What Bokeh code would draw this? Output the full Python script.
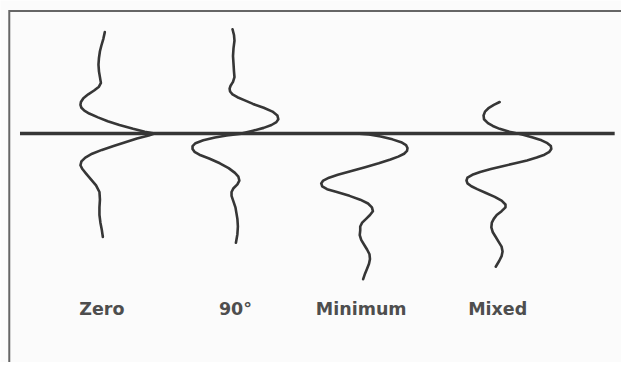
from bokeh.plotting import figure
from bokeh.models import Range1d
from bokeh.embed import file_html
from bokeh.resources import INLINE
from bokeh.core.properties import value

# ---- data (time runs downward, amplitude is horizontal offset) ----
labels = ["Zero", "90°", "Minimum", "Mixed"]
label_x = [104, 241, 370, 510]
label_y = 322

zero_t = [33, 40, 47, 53, 60, 67, 74, 80, 86, 90, 94, 98, 102, 106, 109, 112, 115, 118, 122, 126,
          130, 134, 137, 139, 141, 144, 148, 152, 156, 160, 164, 168, 172, 176, 181, 187, 193, 200,
          208, 216, 224, 232, 240, 247]
zero_x = [107, 105.5, 103.5, 102, 101, 100.5, 101, 102, 103, 101, 96, 90, 85, 82.5, 82, 83, 86, 91, 100, 110,
          122, 136, 148, 158, 152, 140, 128, 116, 104, 94, 87, 83, 82, 84, 88, 93, 98, 101.5,
          102, 101.5, 101.5, 102.5, 104, 105]

ninety_t = [30, 36, 42, 50, 58, 66, 74, 80, 85, 89, 92, 95, 98, 101, 104, 108, 112, 116, 120, 124, 127,
            130, 133, 136, 139, 141, 143, 146, 149, 152, 155, 158, 161, 165, 170, 175, 180, 184, 188,
            192, 196, 200, 204, 210, 216, 222, 228, 236, 244, 253]
ninety_x = [238, 239.5, 240, 239, 238.5, 239, 239.5, 240, 238.5, 236, 235, 235.5, 238, 243, 250, 259, 270, 279, 284, 285, 283,
            278, 270, 259, 247, 232, 220, 208, 200, 197, 197, 199, 204, 214, 225, 234, 240.5, 244, 245,
            243, 239, 237, 237, 239, 241, 242, 243, 243.5, 243, 241.5]

minimum_t = [139, 140, 142, 145, 148, 151, 154, 157, 160, 163, 166, 170, 174, 178, 182, 185, 188, 191, 194,
             197, 200, 204, 208, 212, 216, 220, 224, 228, 232, 236, 240, 245, 250, 255, 260, 265, 270,
             275, 280, 285, 291]
minimum_x = [368, 378, 390, 402, 411, 416, 417.5, 417, 414, 408, 400, 388, 374, 360, 346, 337, 331, 329, 330,
             335, 345, 358, 369, 377, 381, 382, 379, 375, 371, 369, 369, 368.5, 370, 373, 376, 378.5, 379,
             378, 376, 374, 372]

mixed_t = [106, 109, 112, 116, 120, 124, 128, 131, 134, 137, 140, 143, 146, 149, 152, 155, 158, 161, 164,
           167, 170, 173, 176, 179, 182, 185, 188, 191, 194, 197, 201, 205, 209, 213, 216, 220, 224, 228,
           232, 237, 242, 247, 252, 257, 262, 267, 272, 278]
mixed_x = [512, 506, 501, 497, 495.5, 496, 500, 505, 512, 522, 535, 546, 555, 561, 564.5, 565, 563, 558, 550,
           540, 528, 515, 503, 492, 484, 479, 478, 479, 483, 489, 498, 507, 514, 518, 518, 514, 509, 506,
           504, 503.5, 505, 508, 511, 514, 515, 514, 511.5, 508]

time_zero = 139
axis_start, axis_end = 20, 630

# frame: left edge and top edge of the boxed figure
frame_x = [9, 9, 637]
frame_y = [378, 11, 11]

ink = "#363636"

p = figure(width=621, height=362, output_backend="svg", toolbar_location=None,
           x_range=Range1d(0, 637), y_range=Range1d(378, 0),
           min_border=0, background_fill_color="#fbfbfb", border_fill_color="#fbfbfb")
p.axis.visible = False
p.grid.visible = False
p.outline_line_color = None

p.line(frame_x, frame_y, line_color="#666666", line_width=2, line_join="miter")

# zero time line
p.line([axis_start, axis_end], [time_zero, time_zero], line_color=ink, line_width=3.5)

for xs, ts in [(zero_x, zero_t), (ninety_x, ninety_t), (minimum_x, minimum_t), (mixed_x, mixed_t)]:
    p.line(xs, ts, line_color=ink, line_width=2.6, line_join="round", line_cap="round")

p.text(x=label_x, y=[label_y] * len(labels), text=labels,
       text_font=value("DejaVu Sans"), text_font_style="bold", text_font_size="17.5px",
       text_color="#4e4e4e", text_align="center", text_baseline="alphabetic")

open("out.html", "w").write(file_html(p, INLINE))
